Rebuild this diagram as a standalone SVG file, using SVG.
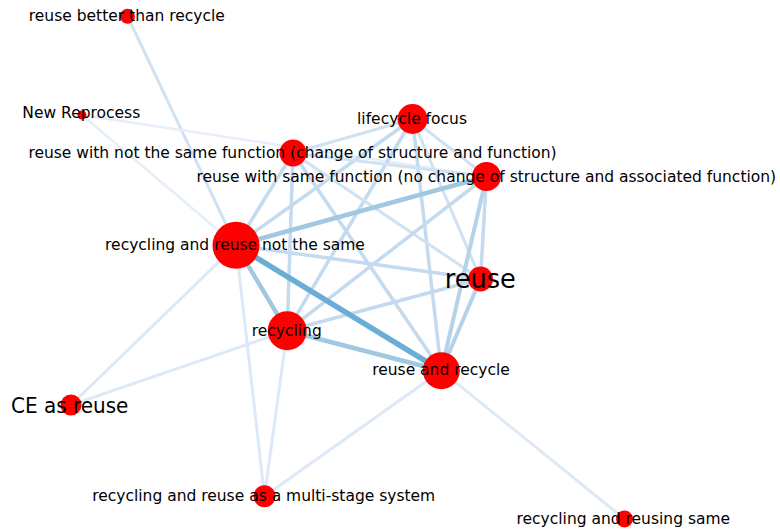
<svg xmlns="http://www.w3.org/2000/svg" width="780" height="530" viewBox="0 0 780 530">
  <style>
    .bg { fill: #ffffff; }
    #edges line { fill: none; stroke-linecap: butt; }
    .w5 { stroke: #6aaed6; stroke-width: 5.5; }
    .w4 { stroke: #a0c8e1; stroke-width: 4.5; }
    .w3a { stroke: #b4d3e9; stroke-width: 4; }
    .w3 { stroke: #c4daee; stroke-width: 3.5; }
    .w2 { stroke: #d0e2f2; stroke-width: 3; }
    .w1 { stroke: #dde9f6; stroke-width: 3; }
    .w0 { stroke: #e6eff9; stroke-width: 2.5; }
    .node circle { fill: #ff0000; }
    .node text { font-family: "DejaVu Sans", "Liberation Sans", sans-serif; font-size: 15.5px; fill: #000000; text-anchor: middle; }
    .node text.big { font-size: 25.6px; }
    .node text.mid { font-size: 20px; }
  </style>
  <rect class="bg" x="0" y="0" width="780" height="530"/>

  <!-- connectors: drawn first so the nodes sit on top -->
  <g id="edges">
    <!-- outer nodes -->
    <line class="w2" x1="127.5" y1="16.2" x2="236" y2="245.3"/>
    <line class="w0" x1="82" y1="115" x2="486.5" y2="176.5"/>
    <line class="w0" x1="82" y1="115" x2="236" y2="245.3"/>
    <line class="w1" x1="71" y1="405" x2="236" y2="245.3"/>
    <line class="w1" x1="71" y1="405" x2="287.2" y2="330.8"/>
    <line class="w1" x1="264.5" y1="496.3" x2="236" y2="245.3"/>
    <line class="w1" x1="264.5" y1="496.3" x2="287.2" y2="330.8"/>
    <line class="w1" x1="264.5" y1="496.3" x2="441.3" y2="370.7"/>
    <line class="w1" x1="624.5" y1="519" x2="441.3" y2="370.7"/>
    <!-- core cluster -->
    <line class="w2" x1="412.5" y1="119" x2="293" y2="153"/>
    <line class="w2" x1="412.5" y1="119" x2="486.5" y2="176.5"/>
    <line class="w2" x1="412.5" y1="119" x2="480.5" y2="279"/>
    <line class="w3" x1="412.5" y1="119" x2="236" y2="245.3"/>
    <line class="w3" x1="412.5" y1="119" x2="287.2" y2="330.8"/>
    <line class="w3" x1="412.5" y1="119" x2="441.3" y2="370.7"/>
    <line class="w2" x1="293" y1="153" x2="486.5" y2="176.5"/>
    <line class="w2" x1="293" y1="153" x2="480.5" y2="279"/>
    <line class="w3" x1="293" y1="153" x2="236" y2="245.3"/>
    <line class="w3" x1="293" y1="153" x2="287.2" y2="330.8"/>
    <line class="w3" x1="293" y1="153" x2="441.3" y2="370.7"/>
    <line class="w3" x1="486.5" y1="176.5" x2="480.5" y2="279"/>
    <line class="w3" x1="486.5" y1="176.5" x2="287.2" y2="330.8"/>
    <line class="w3a" x1="486.5" y1="176.5" x2="441.3" y2="370.7"/>
    <line class="w4" x1="486.5" y1="176.5" x2="236" y2="245.3"/>
    <line class="w3" x1="480.5" y1="279" x2="236" y2="245.3"/>
    <line class="w3" x1="480.5" y1="279" x2="287.2" y2="330.8"/>
    <line class="w3a" x1="480.5" y1="279" x2="441.3" y2="370.7"/>
    <line class="w4" x1="236" y1="245.3" x2="287.2" y2="330.8"/>
    <line class="w4" x1="287.2" y1="330.8" x2="441.3" y2="370.7"/>
    <line class="w5" x1="236" y1="245.3" x2="441.3" y2="370.7"/>
  </g>

  <!-- nodes, each with its label centred on it -->
  <g id="node-reuse-better-than-recycle" class="node">
    <circle cx="127.5" cy="16.2" r="7.5"/>
    <text transform="translate(126.8 20.7) scale(1 1.07)">reuse better than recycle</text>
  </g>
  <g id="node-new-reprocess" class="node">
    <circle cx="82" cy="115" r="4.5"/>
    <text transform="translate(81.3 118.3) scale(1 1.07)">New Reprocess</text>
  </g>
  <g id="node-lifecycle-focus" class="node">
    <circle cx="412.5" cy="119" r="15"/>
    <text transform="translate(412 124) scale(1 1.07)">lifecycle focus</text>
  </g>
  <g id="node-reuse-with-same-function" class="node">
    <circle cx="486.5" cy="176.5" r="14.5"/>
    <text transform="translate(486.3 181.7) scale(1 1.07)">reuse with same function (no change of structure and associated function)</text>
  </g>
  <g id="node-reuse-with-not-the-same-function" class="node">
    <circle cx="293" cy="153" r="13.5"/>
    <text transform="translate(292.5 158.3) scale(1 1.07)">reuse with not the same function (change of structure and function)</text>
  </g>
  <g id="node-recycling-and-reuse-not-the-same" class="node">
    <circle cx="236" cy="245.3" r="23.5"/>
    <text transform="translate(235 250) scale(1 1.07)">recycling and reuse not the same</text>
  </g>
  <g id="node-reuse" class="node">
    <circle cx="480.5" cy="279" r="12.5"/>
    <text class="big" transform="translate(480.3 287.7) scale(1 1.07)">reuse</text>
  </g>
  <g id="node-recycling" class="node">
    <circle cx="287.2" cy="330.8" r="19.5"/>
    <text transform="translate(286.7 335.7) scale(1 1.07)">recycling</text>
  </g>
  <g id="node-reuse-and-recycle" class="node">
    <circle cx="441.3" cy="370.7" r="18.5"/>
    <text transform="translate(441 375) scale(1 1.07)">reuse and recycle</text>
  </g>
  <g id="node-ce-as-reuse" class="node">
    <circle cx="71" cy="405" r="10.5"/>
    <text class="mid" transform="translate(69.7 412.7) scale(1 1.07)">CE as reuse</text>
  </g>
  <g id="node-multi-stage-system" class="node">
    <circle cx="264.5" cy="496.3" r="11"/>
    <text transform="translate(263.7 501) scale(1 1.07)">recycling and reuse as a multi-stage system</text>
  </g>
  <g id="node-recycling-and-reusing-same" class="node">
    <circle cx="624.5" cy="519" r="8.5"/>
    <text transform="translate(623.3 524) scale(1 1.07)">recycling and reusing same</text>
  </g>
</svg>
